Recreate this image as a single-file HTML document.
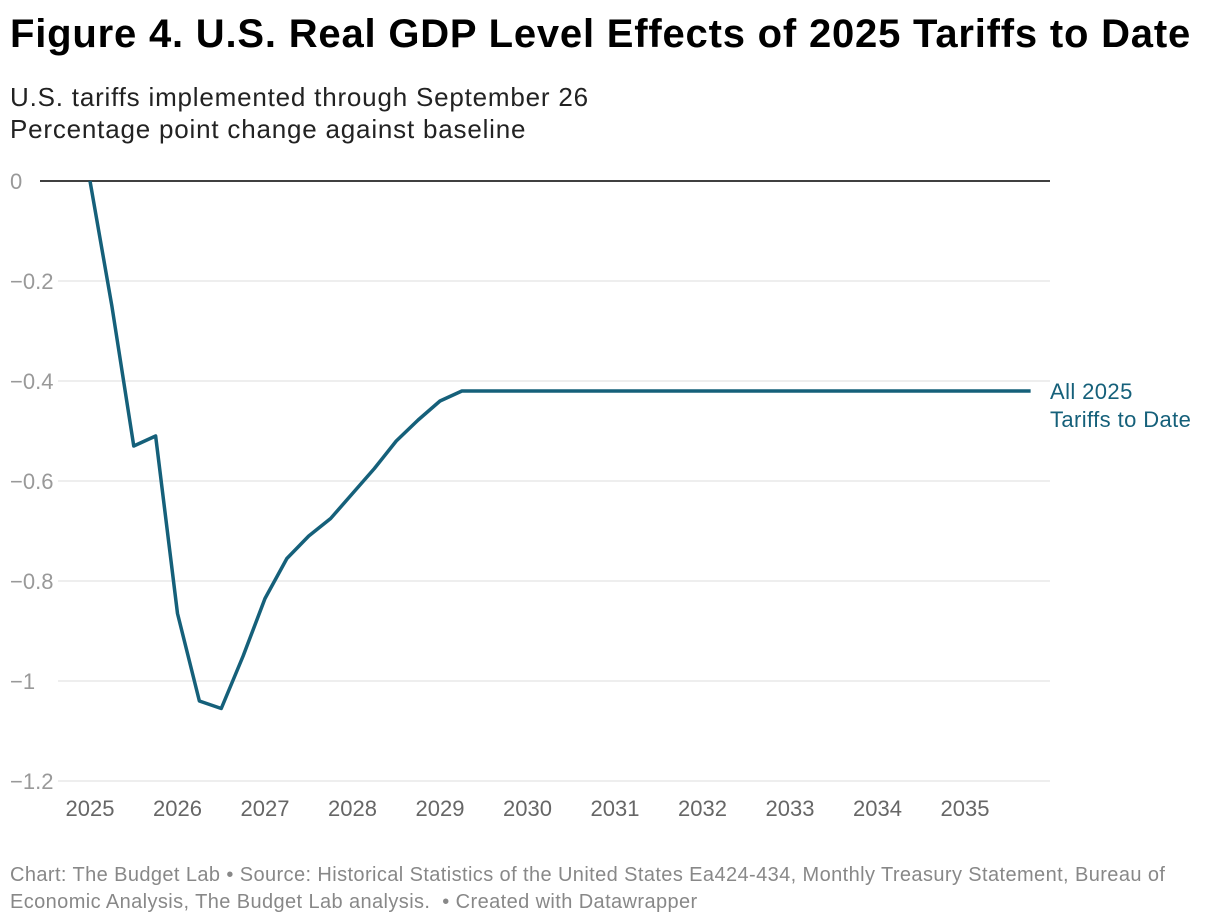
<!DOCTYPE html>
<html><head><meta charset="utf-8"><style>
body{margin:0;width:1220px;height:924px;background:#fff;font-family:"Liberation Sans",sans-serif;overflow:hidden}
#title{position:absolute;left:10px;top:12px;font-size:40px;font-weight:bold;color:#000;letter-spacing:0.8px;white-space:nowrap}
.sub{position:absolute;left:10px;font-size:26px;color:#222;letter-spacing:0.8px;white-space:nowrap}
#foot{position:absolute;left:10px;top:862px;font-size:20px;color:#888;line-height:27px;width:1190px;letter-spacing:0.4px}
svg{position:absolute;left:0;top:0}
</style></head><body>
<div id="title">Figure 4. U.S. Real GDP Level Effects of 2025 Tariffs to Date</div>
<div class="sub" style="top:82px">U.S. tariffs implemented through September 26</div>
<div class="sub" style="top:114px">Percentage point change against baseline</div>
<svg width="1220" height="924" id="chart"></svg>
<div id="foot">Chart: The Budget Lab • Source: Historical Statistics of the United States Ea424-434, Monthly Treasury Statement, Bureau of Economic Analysis, The Budget Lab analysis.&nbsp; • Created with Datawrapper</div>
<script>
const yTicks=[0,-0.2,-0.4,-0.6,-0.8,-1,-1.2];
const yTickLabels=["0","−0.2","−0.4","−0.6","−0.8","−1","−1.2"];
const xTicks=[2025,2026,2027,2028,2029,2030,2031,2032,2033,2034,2035];
const seriesYears=[2025,2025.25,2025.5,2025.75,2026,2026.25,2026.5,2026.75,2027,2027.25,2027.5,2027.75,2028,2028.25,2028.5,2028.75,2029,2029.25,2029.5,2030,2031,2032,2033,2034,2035,2035.75];
const seriesValues=[0,-0.25,-0.53,-0.51,-0.865,-1.04,-1.055,-0.95,-0.835,-0.755,-0.71,-0.675,-0.625,-0.575,-0.52,-0.478,-0.44,-0.42,-0.42,-0.42,-0.42,-0.42,-0.42,-0.42,-0.42,-0.42];
const seriesLabel=["All 2025","Tariffs to Date"];
const svg=document.getElementById('chart');const NS='http://www.w3.org/2000/svg';
const X=v=>90+(v-2025)*87.5;
const Y=v=>181-v*500;
function mk(t,a){const e=document.createElementNS(NS,t);for(const k in a)e.setAttribute(k,a[k]);svg.appendChild(e);return e;}
yTicks.forEach((t,i)=>{
 const l=mk('line',{x1:t===0?40:58,x2:1050,y1:Y(t),y2:Y(t),stroke:t===0?'#000':'#ddd','stroke-width':t===0?1.5:1});
 
 
 const tx=mk('text',{x:10,y:Y(t)+8,'font-size':22,fill:'#999','font-family':'Liberation Sans,sans-serif'});
 tx.textContent=yTickLabels[i];
 
 
});
xTicks.forEach(t=>{
 const tx=mk('text',{x:X(t),y:816,'font-size':22,fill:'#666','text-anchor':'middle','font-family':'Liberation Sans,sans-serif'});
 tx.textContent=t;
 
 
});
const p=mk('path',{d:seriesValues.map((v,i)=>(i?'L':'M')+X(seriesYears[i])+','+Y(v)).join(''),fill:'none',stroke:'#15607a','stroke-width':3.5,'stroke-linejoin':'round'});


const last=seriesValues[seriesValues.length-1];
seriesLabel.forEach((s,i)=>{
 const tx=mk('text',{x:1050,y:Y(last)+8+i*28,'font-size':22,fill:'#15607a','letter-spacing':'0.4','font-family':'Liberation Sans,sans-serif'});
 tx.textContent=s;
 
 
});
</script>
</body></html>
